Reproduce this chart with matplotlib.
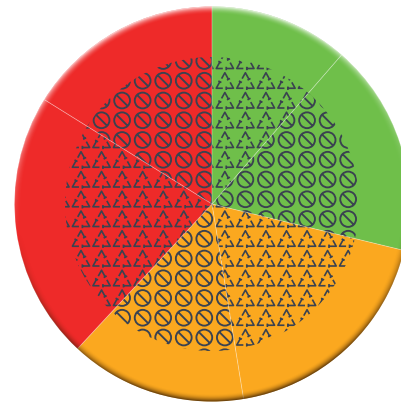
import numpy as np
import matplotlib
matplotlib.use('Agg')
import matplotlib.pyplot as plt
from matplotlib.collections import PathCollection
from matplotlib.path import Path
from matplotlib.transforms import Affine2D

# slice sizes, clockwise from 12 o'clock
values = [41, 62.6, 67.2, 52.1, 79, 58.1]
colors = ['#6FBF4A', '#6FBF4A', '#FBA81F', '#FBA81F', '#EE2A29', '#EE2A29']
patterns = ['recycle', 'forbidden', 'recycle', 'forbidden', 'recycle', 'forbidden']

W, H = 402, 403
cx, cy = 212, H - 204
R = 197.5
R_inner = 147
ink = '#3A4250'


def forbidden_path():
    ring = Path.unit_circle()
    ring = Path(ring.vertices * 7.9, ring.codes)
    d = 7.9 * np.cos(np.pi / 4)
    bar = Path([(-d, d), (d, -d)], [Path.MOVETO, Path.LINETO])
    return Path.make_compound_path(ring, bar)


def recycle_path():
    # three bent arrows chasing each other round a triangle
    corners = [np.array(p, float) for p in [(0, 8), (8.6, -7.5), (-8.6, -7.5)]]
    parts = []
    for i in range(3):
        c = corners[i]
        prev = corners[i - 1]
        nxt = corners[(i + 1) % 3]
        tail = c + (prev - c) * 0.38
        end = c + (nxt - c) * 0.42
        u = (nxt - c) / np.linalg.norm(nxt - c)
        n = np.array([-u[1], u[0]])
        parts.append(Path([tail, c, end], [Path.MOVETO, Path.LINETO, Path.LINETO]))
        parts.append(Path([end + n * 1.7, end - n * 1.7], [Path.MOVETO, Path.LINETO]))
    return Path.make_compound_path(*parts)


symbols = {'forbidden': forbidden_path(), 'recycle': recycle_path()}

fig = plt.figure(figsize=(W / 100, H / 100), dpi=100)
ax = fig.add_axes([0, 0, 1, 1])

wedges, _ = ax.pie(values, colors=colors, startangle=90, counterclock=False,
                   center=(cx, cy), radius=R, wedgeprops={'linewidth': 0})
inner, _ = ax.pie(values, colors=['none'] * 6, startangle=90, counterclock=False,
                  center=(cx, cy), radius=R_inner, wedgeprops={'linewidth': 0})

# shared tile grid for the symbol fill
xs = 81 + 20.55 * np.arange(-2, 15)
ys = H - (61 + 19.75 * np.arange(-1, 16))
gx, gy = np.meshgrid(xs, ys)
offsets = np.column_stack([gx.ravel(), gy.ravel()])

for wedge, name in zip(inner, patterns):
    lw = 1.35 if name == 'forbidden' else 1.2
    coll = PathCollection([symbols[name]], offsets=offsets, offset_transform=ax.transData,
                          transform=Affine2D(), facecolors='none', edgecolors=ink,
                          linewidths=lw, joinstyle='round', capstyle='butt', zorder=3)
    ax.add_collection(coll)
    coll.set_clip_path(wedge)

# faint seams between the slices
seams, _ = ax.pie(values, colors=['none'] * 6, startangle=90, counterclock=False,
                  center=(cx, cy), radius=R,
                  wedgeprops={'linewidth': 0.6, 'edgecolor': (1, 1, 1, 0.22)})
for s in seams:
    s.set_zorder(4)

# bevelled rim: light from above, dark below
py, px = np.mgrid[0:H, 0:W]
dx = px + 0.5 - cx
dy = (H - py - 0.5) - cy
rr = np.hypot(dx, dy)
band = np.clip(1 - (R - rr) / 8.0, 0, 1) ** 2
ny = dy / np.maximum(rr, 1)
nx = dx / np.maximum(rr, 1)
light = ny - 0.15 * nx
rim = np.zeros((H, W, 4))
rim[..., :3] = np.where(light[..., None] > 0, 1.0, np.array([0.2, 0.1, 0.0]))
rim[..., 3] = band * np.clip(np.abs(light) * 1.1, 0, 1) * 0.8
img = ax.imshow(rim, extent=(0, W, 0, H), origin='upper', zorder=5, interpolation='bilinear')
img.set_clip_path(plt.Circle((cx, cy), R, transform=ax.transData))

ax.set_xlim(0, W)
ax.set_ylim(0, H)
ax.set_aspect('auto')
ax.axis('off')
fig.savefig('out.png', dpi=100, facecolor='white')
